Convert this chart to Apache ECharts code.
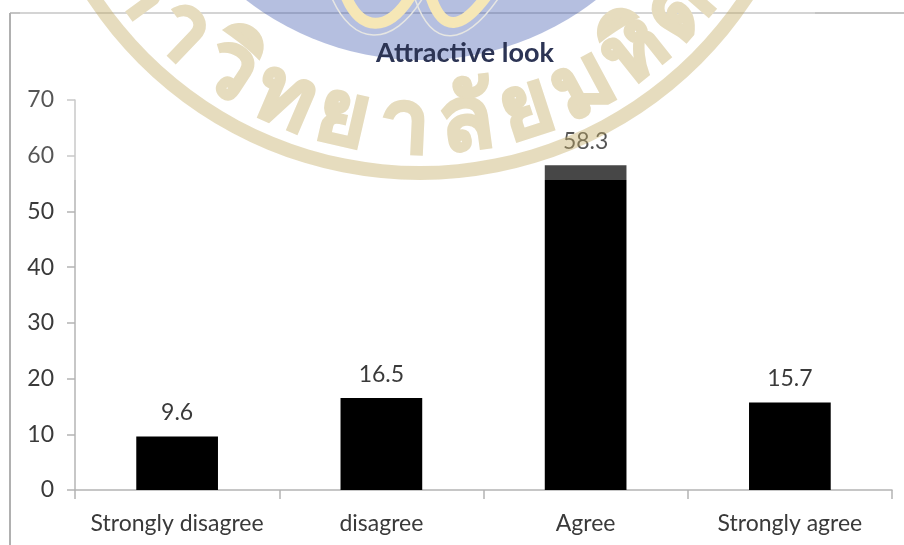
<!DOCTYPE html>
<html><head><meta charset="utf-8">
<style>html,body{margin:0;background:#fff}#c{width:904px;height:545px}</style>
<script src="https://cdn.jsdelivr.net/npm/echarts@6/dist/echarts.min.js"></script></head>
<body><div id="c"></div>
<script>
const categories = ['Strongly disagree', 'disagree', 'Agree', 'Strongly agree'];
const percentages = [9.6, 16.5, 58.3, 15.7];
const sealLetters = ['ม', 'ห', 'า', 'วิ', 'ท', 'ย', 'า', 'ลั', 'ย', 'ม', 'หิ', 'ด', 'ล'];

const FONT = 'Lato';
const AXIS_GREY = '#b4b4b4';
const TEXT_GREY = '#3a3a3a';
const TEXT_UNDER_VEIL = '#141414';
const SEAL_TAN = 'rgba(192,167,92,0.4)';

// University seal laid over the top of the chart, centred above the canvas.
const ringCentre = { x: 420, y: -218 };
const letterRadius = 345;
const letterStep = 10.3 * Math.PI / 180;
const sealGlyphs = sealLetters.map((ch, i) => {
  const a = (i - 6.25) * letterStep;
  return {
    type: 'text', z: 53, silent: true,
    x: ringCentre.x + letterRadius * Math.sin(a),
    y: ringCentre.y + letterRadius * Math.cos(a),
    rotation: a,
    style: { text: ch, fontFamily: 'Noto Sans', fontWeight: 'bold', fontSize: 88,
      fill: '#e6dcbe', stroke: '#e6dcbe', lineWidth: 3,
      textAlign: 'center', textVerticalAlign: 'middle' }
  };
});

// Pale gold loops of the emblem: a yellow band inside a thin white edge.
const loopEdges = [
  { x1: 331, y1: -4, cpx1: 352, cpy1: 46, cpx2: 392, cpy2: 50, x2: 424, y2: -4 },
  { x1: 414, y1: -4, cpx1: 432, cpy1: 52, cpx2: 466, cpy2: 46, x2: 500, y2: -4 }
];
const loopBands = [
  { x1: 345, y1: -6, cpx1: 360, cpy1: 32, cpx2: 388, cpy2: 34, x2: 412, y2: -6 },
  { x1: 430, y1: -6, cpx1: 442, cpy1: 34, cpx2: 462, cpy2: 30, x2: 488, y2: -6 }
];
const loopMarks = [
  ...loopBands.map(shape => ({ type: 'bezierCurve', z: 54, silent: true, shape,
    style: { stroke: '#f6e7b6', lineWidth: 11, fill: null } })),
  ...loopEdges.map(shape => ({ type: 'bezierCurve', z: 55, silent: true, shape,
    style: { stroke: '#e6e6e2', lineWidth: 1.5, fill: null } }))
];

// A label that falls under the veil starts darker so it reads the same.
const barData = percentages.map(value => ({
  value,
  label: { color: value > 50 ? TEXT_UNDER_VEIL : TEXT_GREY }
}));

const chart = echarts.init(document.getElementById('c'));
chart.setOption({
  animation: false,
  title: { text: 'Attractive look', left: 460, top: 35, textAlign: 'center', z: 60,
    textStyle: { fontFamily: FONT, fontSize: 27, fontWeight: 'bold', color: '#2c3454' } },
  grid: { left: 75, right: 12, top: 100, bottom: 55 },
  xAxis: { type: 'category', data: categories,
    axisLine: { lineStyle: { color: AXIS_GREY, width: 1.5 } },
    axisTick: { show: true, length: 9, interval: 0, lineStyle: { color: AXIS_GREY, width: 1.5 } },
    axisLabel: { fontFamily: FONT, fontSize: 23, color: TEXT_GREY, margin: 22, interval: 0 } },
  yAxis: { type: 'value', min: 0, max: 70, interval: 10, splitLine: { show: false },
    axisLine: { show: true, lineStyle: { color: AXIS_GREY, width: 1.5 } },
    axisTick: { show: true, length: 8, lineStyle: { color: AXIS_GREY, width: 1.5 } },
    axisLabel: { fontFamily: FONT, fontSize: 23, margin: 21,
      color: v => (Number(v) >= 60 ? TEXT_UNDER_VEIL : TEXT_GREY) } },
  series: [{ type: 'bar', data: barData, barWidth: '40%', itemStyle: { color: '#000' },
    label: { show: true, position: 'top', distance: 12, fontFamily: FONT, fontSize: 23 } }],
  graphic: [
    // Outer chart frame
    { type: 'line', z: 1, silent: true, shape: { x1: 10, y1: 13, x2: 904, y2: 13 }, style: { stroke: '#c4c4c4', lineWidth: 2 } },
    { type: 'line', z: 1, silent: true, shape: { x1: 10, y1: 13, x2: 10, y2: 545 }, style: { stroke: '#b0b0b0', lineWidth: 2 } },
    // Pale veil of the seal image, which lightens whatever lies under it
    { type: 'rect', z: 50, silent: true, shape: { x: 20, y: 0, width: 795, height: 180 }, style: { fill: 'rgba(255,255,255,0.28)' } },
    { type: 'circle', z: 51, silent: true, shape: { cx: 421, cy: -225, r: 285 }, style: { fill: 'rgba(54,81,171,0.37)' } },
    { type: 'ring', z: 52, silent: true, shape: { cx: ringCentre.x, cy: ringCentre.y, r: 398, r0: 384 }, style: { fill: SEAL_TAN } },
    ...sealGlyphs,
    ...loopMarks
  ]
});
</script></body></html>
